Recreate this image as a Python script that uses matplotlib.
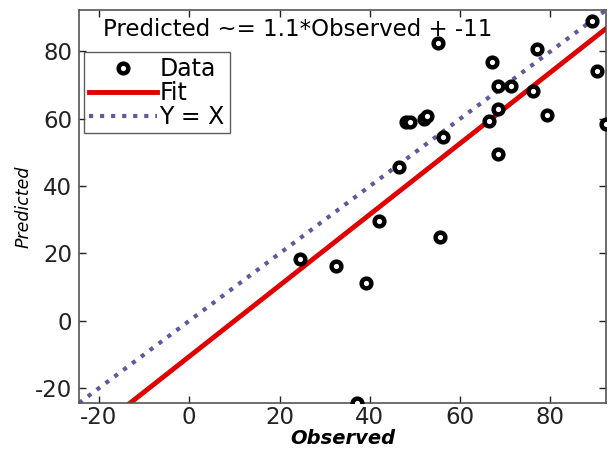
import numpy as np
import matplotlib
matplotlib.use("Agg")
import matplotlib.pyplot as plt

plt.rcParams['font.family'] = ['DejaVu Sans']
plt.rcParams['axes.unicode_minus'] = False

# observed vs predicted values
observed = [89.3, 55.0, 77.1, 67.1, 90.2, 68.4, 71.2, 76.2, 68.4, 79.2,
            66.4, 92.3, 56.1, 68.4, 46.4, 42.0, 55.5, 24.5, 32.4, 39.2,
            37.2, 47.9, 49.0, 51.9, 52.7]
predicted = [88.9, 82.5, 80.7, 77.0, 74.3, 69.6, 69.6, 68.1, 62.9, 61.2,
             59.3, 58.3, 54.5, 49.4, 45.6, 29.6, 24.9, 18.3, 16.3, 11.3,
             -24.4, 59.0, 58.9, 59.8, 60.9]

# linear fit coefficients
slope = 1.055
intercept = -10.6

lo = min(min(observed), min(predicted))
hi = max(max(observed), max(predicted))
xs = np.array([lo, hi])

fig = plt.figure(figsize=(6.14, 4.5), dpi=100)
ax = fig.add_axes([0.1287, 0.1044, 0.8583, 0.8734])

ax.plot(observed, predicted, 'o', color='black', markerfacecolor='white',
        markeredgecolor='black', markersize=7, markeredgewidth=3.2, label='Data', zorder=3)
ax.plot(xs, slope * xs + intercept, '-', color='#e00000', linewidth=3.5, label='Fit')
ax.plot(xs, xs, ':', color='#5c5c9c', linewidth=3, label='Y = X')

ax.set_xlim(lo, hi)
ax.set_ylim(lo, hi)
ax.set_xticks([-20, 0, 20, 40, 60, 80])
ax.set_yticks([-20, 0, 20, 40, 60, 80])
ax.tick_params(direction='in', length=5, width=1, top=True, right=True,
               labelsize=16.5, colors='#222222')
ax.tick_params(axis='x', pad=2.5)
ax.tick_params(axis='y', pad=5)
for s in ax.spines.values():
    s.set_color('#555555')
    s.set_linewidth(1.2)

ax.set_xlabel('Observed', fontsize=14, fontweight='bold', fontstyle='italic', labelpad=0)
ax.set_ylabel('Predicted', fontsize=12.5, fontstyle='italic', labelpad=2)

ax.text(0.0455, 0.934, 'Predicted ~= %.2g*Observed + %.2g' % (slope, intercept),
        transform=ax.transAxes, fontsize=16.5, ha='left', va='baseline')

leg = ax.legend(loc='upper left', bbox_to_anchor=(0.0095, 0.893), fontsize=17,
                frameon=True, fancybox=False, edgecolor='#333333',
                handlelength=2.9, handletextpad=0.1, borderpad=0.2,
                labelspacing=0.0, borderaxespad=0)
leg.get_frame().set_linewidth(1)

fig.savefig('out.png', dpi=100)
